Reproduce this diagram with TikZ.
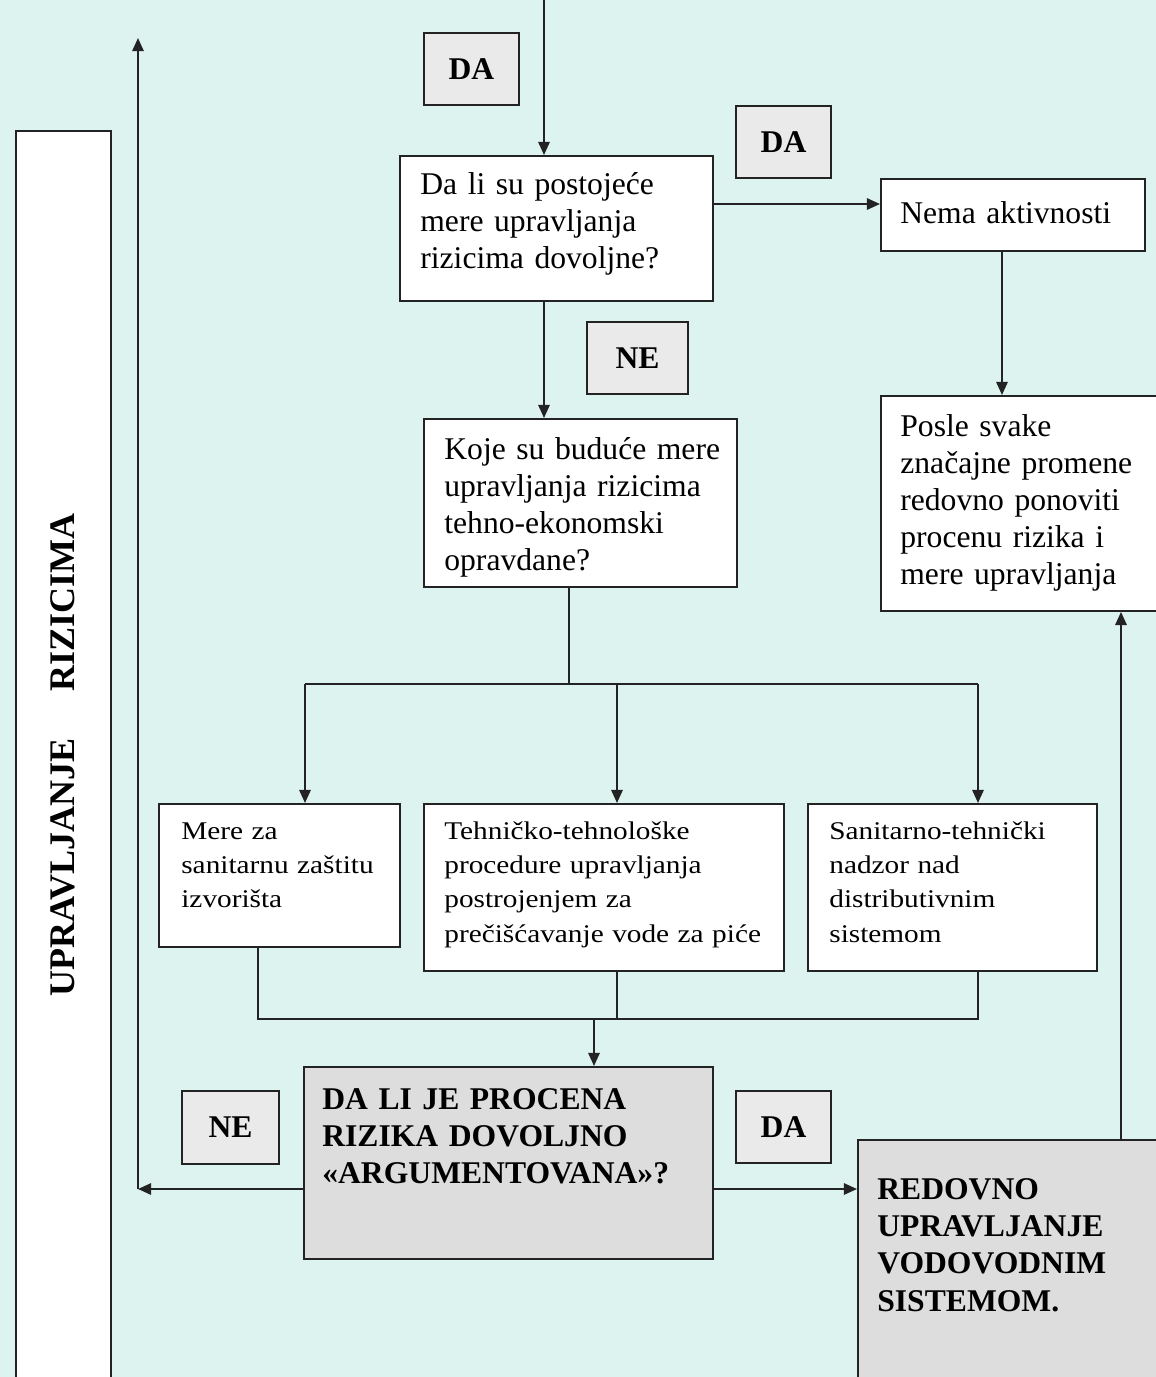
\documentclass[tikz,border=0pt]{standalone}
\usepackage{fontspec}
\setmainfont{Liberation Serif}
\newfontfamily\widefont[FakeStretch=1.15]{Liberation Serif}
\usetikzlibrary{arrows.meta}
\definecolor{bgc}{RGB}{221,243,240}
\definecolor{labc}{RGB}{234,234,234}
\definecolor{grayb}{RGB}{221,221,221}
\definecolor{linec}{RGB}{35,35,35}
\def\PX{0.56905pt}
\tikzset{
  boxbase/.style={draw=linec, line width=1.1pt, inner sep=0pt, anchor=north west},
  wbox/.style={boxbase, fill=white},
  gbox/.style={boxbase, fill=grayb},
  labbox/.style={draw=linec, line width=1.1pt, fill=labc, inner sep=0pt, font=\bfseries\fontsize{18}{21}\selectfont},
  txt/.style={inner sep=0pt, anchor=base west, text width=10cm, align=left, font=\fontsize{18}{21.2}\selectfont},
  txtw/.style={inner sep=0pt, anchor=base west, text width=12cm, align=left, font=\widefont\fontsize{14.5}{19.6}\selectfont},
  txtb/.style={inner sep=0pt, anchor=base west, text width=10cm, align=left, font=\bfseries\fontsize{18}{21.3}\selectfont},
  conn/.style={draw=linec, line width=1.1pt},
  arr/.style={conn, -{Triangle[length=7.5pt,width=6.5pt]}}
}
\begin{document}
\begin{tikzpicture}[x=0.02cm, y=-0.02cm]
\useasboundingbox (0,0) rectangle (1156,1377);
\clip (0,0) rectangle (1156,1377);
\fill[bgc] (0,0) rectangle (1156,1377);

% left vertical title box
\node[wbox, minimum width=95*\PX, minimum height=1280*\PX] (side) at (15,130) {};
\node[rotate=90, inner sep=0pt, font=\bfseries\fontsize{20.5}{24}\selectfont] (sidet) at (63,755) {UPRAVLJANJE\hspace{1.3em}RIZICIMA};

% boxes
\node[wbox, minimum width=313*\PX, minimum height=145*\PX] (b1) at (399,155) {};
\node[txt] (t1) at (420,194) {Da li su postojeće\\mere upravljanja\\rizicima dovoljne?};

\node[wbox, minimum width=264*\PX, minimum height=72*\PX] (nema) at (880,178) {};
\node[txt] (tn) at (900,223) {Nema aktivnosti};

\node[wbox, minimum width=300*\PX, minimum height=215*\PX] (posle) at (880,395) {};
\node[txt] (tp) at (900,436) {Posle svake\\značajne promene\\redovno ponoviti\\procenu rizika i\\mere upravljanja};

\node[wbox, minimum width=313*\PX, minimum height=168*\PX] (b2) at (423,418) {};
\node[txt] (t2) at (444,459) {Koje su buduće mere\\upravljanja rizicima\\tehno-ekonomski\\opravdane?};

\node[wbox, minimum width=241*\PX, minimum height=143*\PX] (b3) at (158,803) {};
\node[txtw] (t3) at (181,839) {Mere za\\sanitarnu zaštitu\\izvorišta};

\node[wbox, minimum width=360*\PX, minimum height=167*\PX] (b4) at (423,803) {};
\node[txtw] (t4) at (444,839) {Tehničko-tehnološke\\procedure upravljanja\\postrojenjem za\\prečišćavanje vode za piće};

\node[wbox, minimum width=289*\PX, minimum height=167*\PX] (b5) at (807,803) {};
\node[txtw] (t5) at (829,839) {Sanitarno-tehnički\\nadzor nad\\distributivnim\\sistemom};

\node[gbox, minimum width=409*\PX, minimum height=192*\PX] (dec) at (303,1066) {};
\node[txtb] (td) at (322,1109) {DA LI JE PROCENA\\RIZIKA DOVOLJNO\\«ARGUMENTOVANA»?};

\node[gbox, minimum width=320*\PX, minimum height=260*\PX] (red) at (857,1139) {};
\node[txtb] (tr) at (877,1199) {REDOVNO\\UPRAVLJANJE\\VODOVODNIM\\SISTEMOM.};

% label boxes
\node[labbox, minimum width=95*\PX, minimum height=72*\PX] (da1) at (471.5,69) {DA};
\node[labbox, minimum width=95*\PX, minimum height=72*\PX] (da2) at (783.5,142) {DA};
\node[labbox, minimum width=101*\PX, minimum height=72*\PX] (ne1) at (637.5,358) {NE};
\node[labbox, minimum width=97*\PX, minimum height=73*\PX] (ne2) at (230.5,1127.5) {NE};
\node[labbox, minimum width=95*\PX, minimum height=72*\PX] (da3) at (783.5,1127) {DA};

% coordinates
\coordinate (top) at (544,0);
\coordinate (a1) at (712,204);
\coordinate (xa) at (1002,0);
\coordinate (s) at (569,684);
\coordinate (sl) at (305,684);
\coordinate (sm) at (617,684);
\coordinate (sr) at (978,684);
\coordinate (ml) at (258,1019);
\coordinate (mm) at (617,1019);
\coordinate (mr) at (978,1019);
\coordinate (mc) at (594,1019);
\coordinate (d) at (712,1189);
\coordinate (lc) at (138,1189);
\coordinate (lt) at (138,38);
\coordinate (ru) at (1121,0);

% connectors
\draw[arr] (top) -- (top |- b1.north);
\draw[arr] (a1) -- (a1 -| nema.west);
\draw[arr] (xa |- nema.south) -- (xa |- posle.north);
\draw[arr] (top |- b1.south) -- (top |- b2.north);
\draw[conn] (s |- b2.south) -- (s);
\draw[conn] (sl) -- (sr);
\draw[arr] (sl) -- (sl |- b3.north);
\draw[arr] (sm) -- (sm |- b4.north);
\draw[arr] (sr) -- (sr |- b5.north);
\draw[conn] (ml |- b3.south) -- (ml) -- (mr) -- (mr |- b5.south);
\draw[conn] (mm |- b4.south) -- (mm);
\draw[arr] (mc) -- (mc |- dec.north);
\draw[arr] (d -| dec.east) -- (d -| red.west);
\draw[arr] (d -| dec.west) -- (lc);
\draw[arr] (lc) -- (lt);
\draw[arr] (ru |- red.north) -- (ru |- posle.south);
\end{tikzpicture}
\end{document}
